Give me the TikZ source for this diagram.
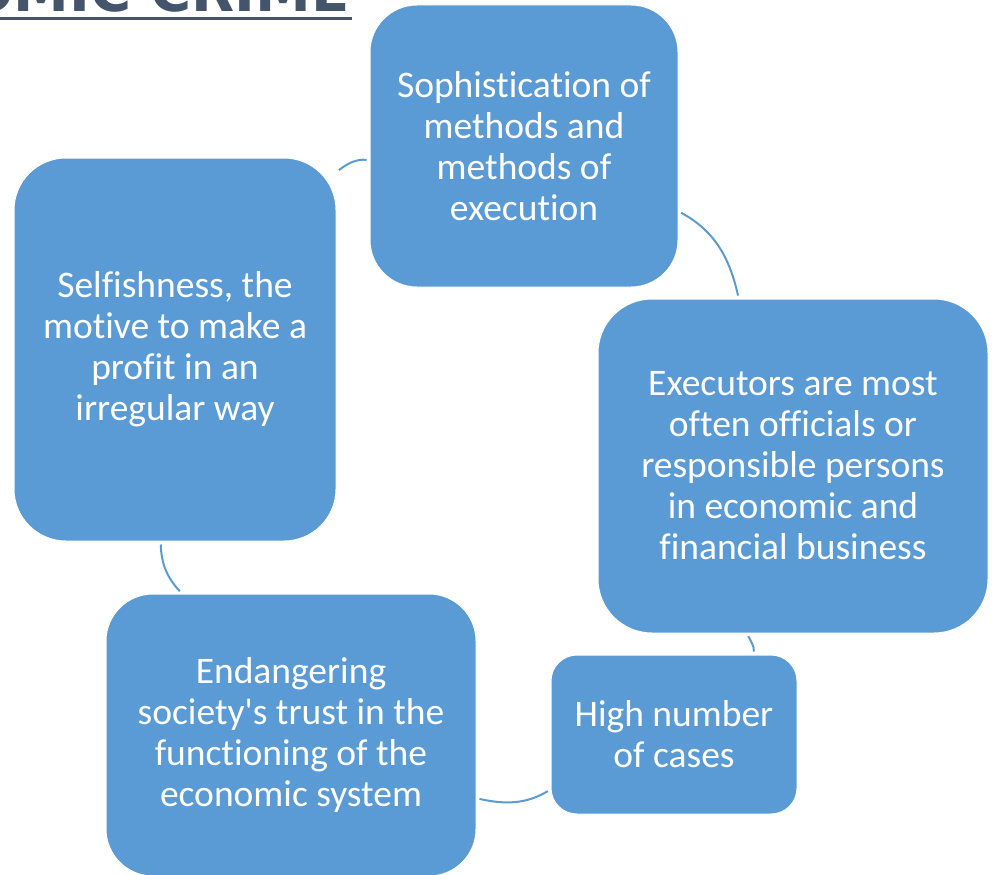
\documentclass[tikz,border=0pt]{standalone}
\usepackage{fontspec}
\setmainfont{Carlito}[Ligatures=CommonOff]
\newfontfamily\headfont{DejaVu Sans}

\definecolor{boxblue}{HTML}{5B9BD5}
\definecolor{slate}{HTML}{44546A}

\begin{document}
\begin{tikzpicture}[x=1pt,y=-1pt,
    box/.style={fill=boxblue,draw=white,line width=1pt,text=white,align=center,
      inner sep=0pt,font=\fontsize{37.5}{41}\selectfont},
    link/.style={draw=boxblue,line width=2pt,shorten <=3pt,shorten >=3pt}]
  \useasboundingbox (0,0) rectangle (996,875);
  \clip (0,0) rectangle (996,875);

  % Heading, cut by the top edge
  \node[anchor=base east,inner sep=0pt,text=slate,
    font=\headfont\bfseries\fontsize{56}{66}\selectfont] (heading) at (350,12) {ECONOMIC CRIME};
  \draw[slate,line width=3pt] (0,18.5) -- (352,18.5);

  % Boxes of the cycle
  \node[box,minimum width=308pt,minimum height=282pt,rounded corners=47pt] (methods) at (524,146)
    {Sophistication of\\methods and\\methods of\\execution};
  \node[box,minimum width=390pt,minimum height=334pt,rounded corners=54pt] (executors) at (793,466)
    {Executors are most\\often officials or\\responsible persons\\in economic and\\financial business};
  \node[box,minimum width=246pt,minimum height=159pt,rounded corners=26pt] (cases) at (674,734.5)
    {High number\\of cases};
  \node[box,minimum width=370pt,minimum height=282pt,rounded corners=47pt] (trust) at (291,735)
    {Endangering\\society\textquotesingle s trust in the\\functioning of the\\economic system};
  \node[box,minimum width=322pt,minimum height=383pt,rounded corners=52pt] (profit) at (175,349.5)
    {Selfishness, the\\motive to make a\\profit in an\\irregular way};

  % Arcs between the boxes
  \draw[link] (methods) to[out=27,in=158,relative] (executors);
  \draw[link] (executors) to[out=8.5,in=159,relative] (cases);
  \draw[link] (cases) to[out=24,in=161,relative] (trust);
  \draw[link] (trust) to[bend left=21] (profit);
  \draw[link] (profit) to[out=17.5,in=155,relative] (methods);
\end{tikzpicture}
\end{document}
